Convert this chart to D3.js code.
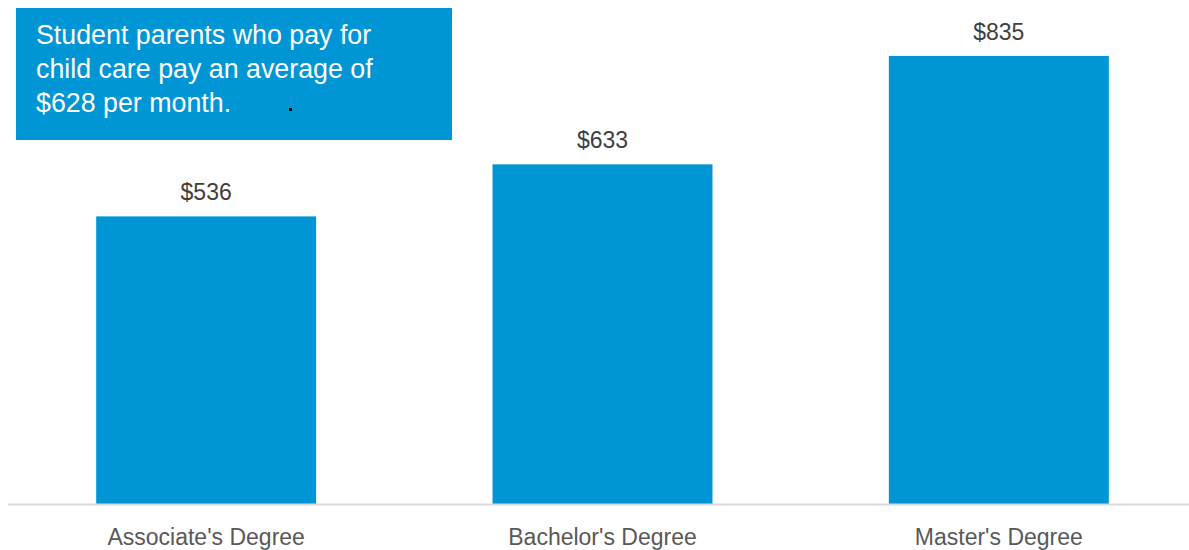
<!DOCTYPE html>
<html>
<head>
<meta charset="utf-8">
<script src="https://cdn.jsdelivr.net/npm/d3@7"></script>
<style>
  html, body { margin: 0; padding: 0; background: #ffffff; }
  svg { display: block; }
</style>
</head>
<body>
<svg id="chart" width="1189" height="550"></svg>
<script>
// Monthly child care cost by degree level
const categories = ["Associate's Degree", "Bachelor's Degree", "Master's Degree"];
const values = [536, 633, 835];
const calloutLines = ["Student parents who pay for", "child care pay an average of", "$628 per month."];

const W = 1189, H = 550;
const baseY = 504;
const svg = d3.select("#chart");
const font = "Tahoma, 'Liberation Sans', Arial, sans-serif";

const x = d3.scaleBand()
  .domain(categories)
  .range([8, 1197])
  .paddingInner(0.445)
  .paddingOuter(0.2225);

const y = d3.scaleLinear()
  .domain([0, 900])
  .range([baseY, baseY - 900 * 0.5366]);

const blue = "#0096d6";

// bars
svg.append("g").selectAll("rect")
  .data(values)
  .join("rect")
  .attr("x", (d, i) => x(categories[i]))
  .attr("y", d => y(d))
  .attr("width", x.bandwidth())
  .attr("height", d => y(0) - y(d))
  .attr("fill", blue);

// value labels
svg.append("g").selectAll("text")
  .data(values)
  .join("text")
  .attr("x", (d, i) => x(categories[i]) + x.bandwidth() / 2)
  .attr("y", d => y(d) - 16)
  .attr("text-anchor", "middle")
  .attr("font-family", font)
  .attr("font-size", 23)
  .attr("fill", "#404040")
  .text(d => "$" + d);

// baseline axis
const axis = d3.axisBottom(x).tickSize(0).tickPadding(25);
const gx = svg.append("g")
  .attr("transform", `translate(0,${baseY})`)
  .call(axis);
gx.select(".domain").remove();
gx.append("line")
  .attr("x1", 8).attr("x2", W)
  .attr("y1", 0.5).attr("y2", 0.5)
  .attr("stroke", "#d9d9d9")
  .attr("stroke-width", 2);
gx.selectAll(".tick text")
  .attr("font-family", font)
  .attr("font-size", 23)
  .attr("fill", "#595959");

// callout box
svg.append("rect")
  .attr("x", 16).attr("y", 8)
  .attr("width", 436).attr("height", 132)
  .attr("fill", blue);

svg.append("g").selectAll("text")
  .data(calloutLines)
  .join("text")
  .attr("x", 36)
  .attr("y", (d, i) => 44 + i * 34)
  .attr("font-family", font)
  .attr("font-size", 26.8)
  .attr("fill", "#ffffff")
  .text(d => d);

// small stray mark inside the callout
svg.append("rect")
  .attr("x", 289).attr("y", 108)
  .attr("width", 3).attr("height", 3)
  .attr("fill", "#000000");
</script>
</body>
</html>
